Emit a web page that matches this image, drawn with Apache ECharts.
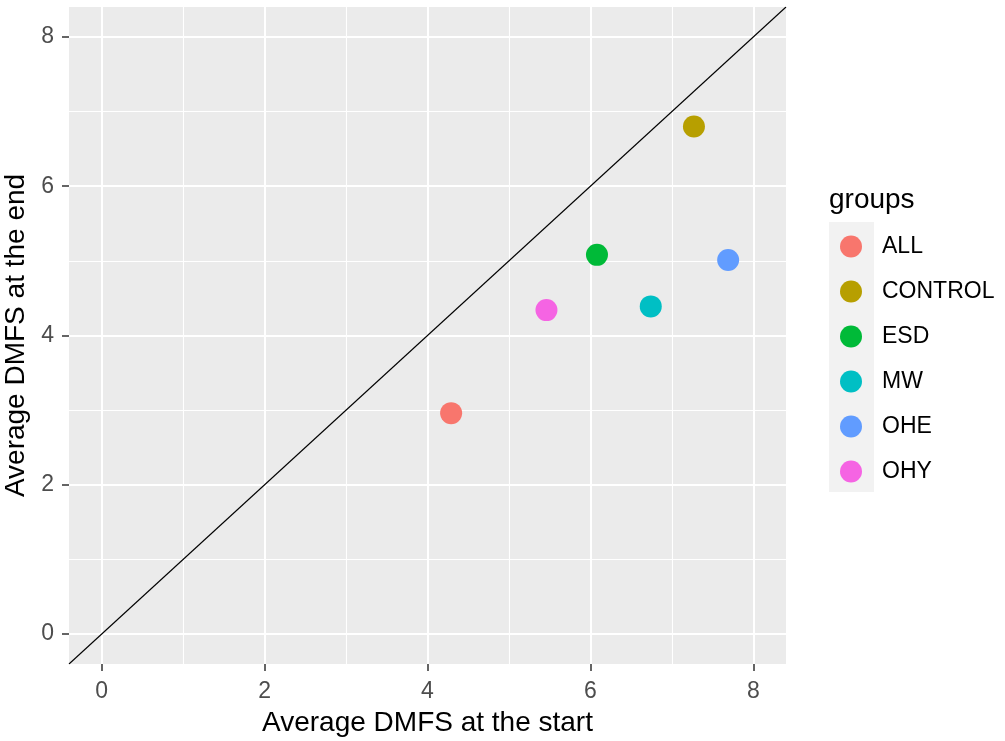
<!DOCTYPE html>
<html>
<head>
<meta charset="utf-8">
<script src="https://cdn.jsdelivr.net/npm/echarts@6/dist/echarts.min.js"></script>
<style>
  html, body { margin: 0; padding: 0; background: #fff; }
  #chart { width: 1005px; height: 741px; }
</style>
</head>
<body>
<div id="chart"></div>
<script>
// data
const groups = ["ALL", "CONTROL", "ESD", "MW", "OHE", "OHY"];
const startDMFS = [4.29, 7.27, 6.08, 6.74, 7.69, 5.46];
const endDMFS = [2.96, 6.80, 5.08, 4.39, 5.01, 4.34];
const groupColors = ["#F8766D", "#B79F00", "#00BA38", "#00BFC4", "#619CFF", "#F564E3"];

// axis breaks
const majorTicks = [0, 2, 4, 6, 8];
const minorTicks = [1, 3, 5, 7];
const axisRange = [-0.4, 8.4];

// y = x reference line, across the whole panel
const diagonal = [axisRange[0], axisRange[1]];

const font = "Liberation Sans, Arial, sans-serif";

let myChart = echarts.init(document.getElementById("chart"));

let pointSeries = groups.map(function (g, i) {
  return {
    name: g,
    type: "scatter",
    symbol: "circle",
    symbolSize: 22,
    itemStyle: { color: groupColors[i], opacity: 1 },
    data: [[startDMFS[i], endDMFS[i]]],
    z: 3
  };
});

function mainAxis(name, isX) {
  return {
    type: "value",
    min: axisRange[0],
    max: axisRange[1],
    position: isX ? "bottom" : "left",
    name: name,
    nameLocation: "middle",
    nameGap: isX ? 45 : 38,
    nameTextStyle: { color: "#000", fontSize: 28, fontFamily: font },
    axisLine: { show: false, onZero: false },
    axisTick: {
      show: true,
      length: 7,
      customValues: majorTicks,
      lineStyle: { color: "#333333", width: 1.5 }
    },
    axisLabel: {
      customValues: majorTicks,
      margin: isX ? 16 : 15,
      color: "#4d4d4d",
      fontSize: 23,
      fontFamily: font
    },
    splitLine: { show: true, lineStyle: { color: "#ffffff", width: 2 } }
  };
}

function minorAxis(isX) {
  return {
    type: "value",
    min: axisRange[0],
    max: axisRange[1],
    position: isX ? "bottom" : "left",
    axisLine: { show: false, onZero: false },
    axisTick: { show: false, customValues: minorTicks },
    axisLabel: { show: false, customValues: minorTicks },
    splitLine: { show: true, lineStyle: { color: "#ffffff", width: 1.1 } }
  };
}

myChart.setOption({
  animation: false,
  backgroundColor: "#ffffff",
  grid: {
    left: 69,
    right: 219,
    top: 7,
    bottom: 77,
    show: true,
    backgroundColor: "#ebebeb",
    borderWidth: 0,
    containLabel: false,
    outerBoundsMode: "none"
  },
  title: {
    text: "groups",
    left: 829,
    top: 186,
    padding: 0,
    textStyle: { color: "#000", fontSize: 28, fontWeight: "normal", fontFamily: font }
  },
  graphic: [
    {
      type: "rect",
      left: 829,
      top: 222,
      shape: { width: 45, height: 270 },
      style: { fill: "#f2f2f2" },
      z: -1
    }
  ],
  legend: {
    data: groups,
    orient: "vertical",
    left: 840,
    top: 235,
    padding: 0,
    icon: "circle",
    itemWidth: 22,
    itemHeight: 22,
    itemGap: 22,
    textStyle: {
      color: "#000",
      fontSize: 23,
      fontFamily: font,
      padding: [0, 0, 0, 15]
    }
  },
  xAxis: [mainAxis("Average DMFS at the start", true), minorAxis(true)],
  yAxis: [mainAxis("Average DMFS at the end", false), minorAxis(false)],
  series: [
    {
      name: "y = x",
      type: "line",
      data: [[diagonal[0], diagonal[0]], [diagonal[1], diagonal[1]]],
      symbol: "none",
      silent: true,
      lineStyle: { color: "#000000", width: 1.1 },
      z: 2
    }
  ].concat(pointSeries)
});
</script>
</body>
</html>
